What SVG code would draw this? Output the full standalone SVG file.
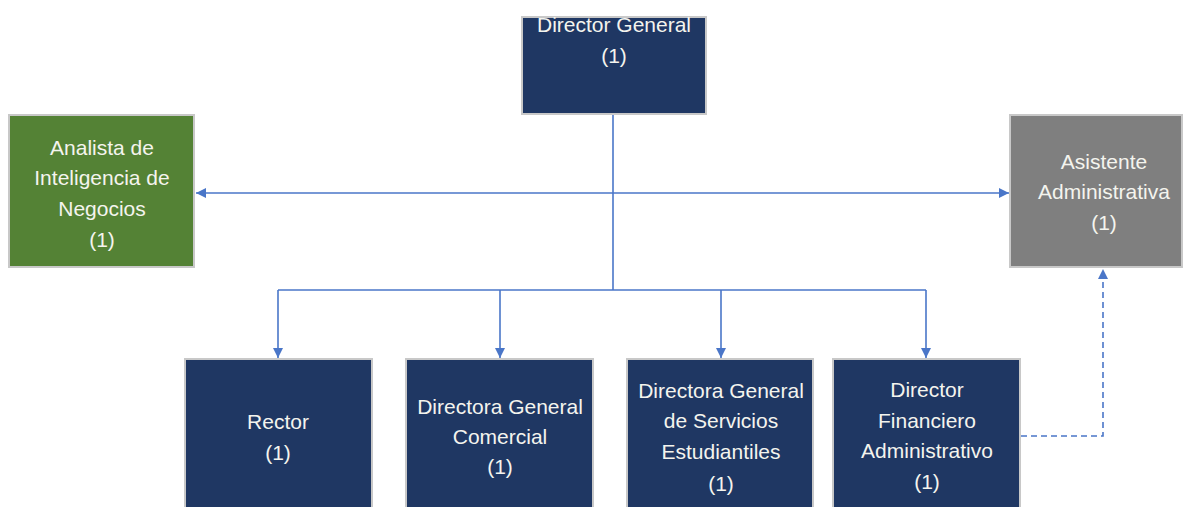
<svg xmlns="http://www.w3.org/2000/svg" width="1184" height="507" viewBox="0 0 1184 507">
<defs>
<style>
.box{stroke:#c8c8c8;stroke-width:2}
.navy{fill:#1f3763}
.green{fill:#548235}
.gray{fill:#7f7f7f}
text{font-family:"Liberation Sans",Arial,sans-serif;font-size:21px;fill:#f4f4ee;text-anchor:middle}
.ln{stroke:#4a76c8;stroke-width:1.6;fill:none}
.dash{stroke-dasharray:6 4}
</style>
<marker id="ah" viewBox="0 0 10 10" refX="10" refY="5" markerWidth="10" markerHeight="10" markerUnits="userSpaceOnUse" orient="auto-start-reverse">
<path d="M0,0 L10,5 L0,10 z" fill="#4a76c8"/>
</marker>
</defs>
<rect width="1184" height="507" fill="#ffffff"/>
<g id="connectors">
<line class="ln" x1="613" y1="115" x2="613" y2="290"/>
<line class="ln" x1="196" y1="193" x2="1009" y2="193" marker-start="url(#ah)" marker-end="url(#ah)"/>
<polyline class="ln" points="278,290 926,290"/>
<line class="ln" x1="278" y1="290" x2="278" y2="358" marker-end="url(#ah)"/>
<line class="ln" x1="500" y1="290" x2="500" y2="358" marker-end="url(#ah)"/>
<line class="ln" x1="721" y1="290" x2="721" y2="358" marker-end="url(#ah)"/>
<line class="ln" x1="926" y1="290" x2="926" y2="358" marker-end="url(#ah)"/>
<polyline class="ln dash" points="1021,436 1103,436 1103,269" marker-end="url(#ah)"/>
</g>
<g id="director-general">
<rect class="box navy" x="522" y="17" width="184" height="97"/>
<text x="614" y="32">Director General</text>
<text x="614" y="63">(1)</text>
</g>
<g id="analista">
<rect class="box green" x="9" y="115" width="185" height="152"/>
<text x="102" y="155">Analista de</text>
<text x="102" y="185">Inteligencia de</text>
<text x="102" y="216">Negocios</text>
<text x="102" y="247">(1)</text>
</g>
<g id="asistente">
<rect class="box gray" x="1010" y="115" width="172" height="152"/>
<text x="1104" y="169">Asistente</text>
<text x="1104" y="199">Administrativa</text>
<text x="1104" y="230">(1)</text>
</g>
<g id="rector">
<rect class="box navy" x="185" y="359" width="187" height="160"/>
<text x="278" y="429">Rector</text>
<text x="278" y="460">(1)</text>
</g>
<g id="comercial">
<rect class="box navy" x="406" y="359" width="187" height="160"/>
<text x="500" y="414">Directora General</text>
<text x="500" y="444">Comercial</text>
<text x="500" y="474">(1)</text>
</g>
<g id="servicios">
<rect class="box navy" x="627" y="359" width="186" height="160"/>
<text x="721" y="398">Directora General</text>
<text x="721" y="428">de Servicios</text>
<text x="721" y="459">Estudiantiles</text>
<text x="721" y="491">(1)</text>
</g>
<g id="financiero">
<rect class="box navy" x="833" y="359" width="187" height="160"/>
<text x="927" y="397">Director</text>
<text x="927" y="428">Financiero</text>
<text x="927" y="458">Administrativo</text>
<text x="927" y="489">(1)</text>
</g>
</svg>
